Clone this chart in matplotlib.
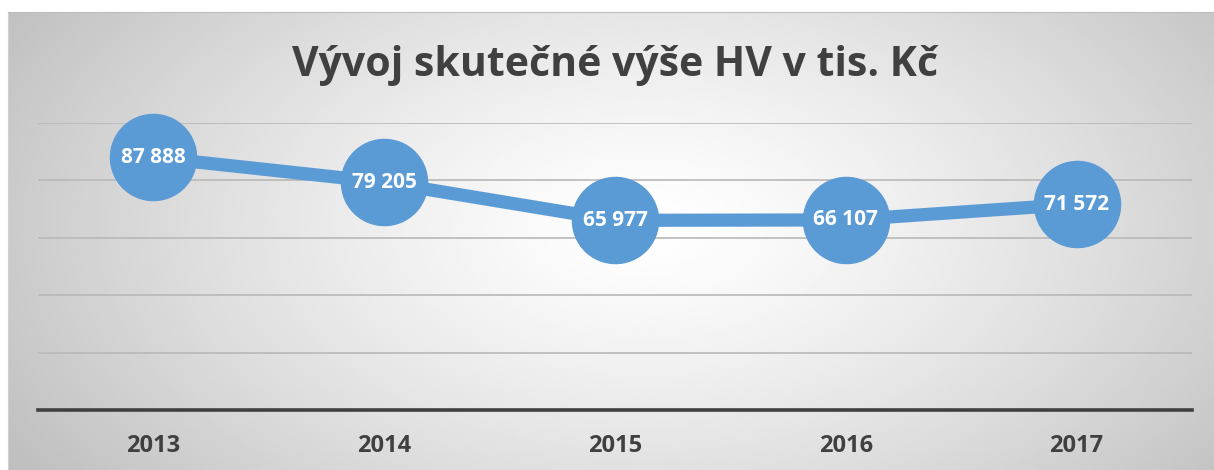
import numpy as np
from matplotlib import pyplot as plt

# data
years = ['2013', '2014', '2015', '2016', '2017']
hv_values = [87888, 79205, 65977, 66107, 71572]
value_labels = ['87 888', '79 205', '65 977', '66 107', '71 572']
title_text = 'Vývoj skutečné výše HV v tis. Kč'

W, H = 1214, 470
fig = plt.figure(figsize=(W / 100, H / 100), dpi=100)
fig.patch.set_facecolor('white')

# ============= gradient background of chart area ================
bg = fig.add_axes([8 / W, 0, 1 - 8 / W, (H - 12) / H])
gx = np.linspace(0, 1, 400)
gy = np.linspace(0, 1, 160)
GX, GY = np.meshgrid(gx, gy)
dist = np.sqrt(((GX - 0.53) / 0.62) ** 2 + ((GY - 0.47) / 0.95) ** 2)
dist = np.clip(dist, 0, 1)
shade = 1.0 - 0.25 * dist ** 1.3
bg.imshow(shade, cmap='gray', vmin=0, vmax=1, aspect='auto', extent=[0, 1, 0, 1], origin='upper')
bg.set_xlim(0, 1)
bg.set_ylim(0, 1)
bg.set_xticks([])
bg.set_yticks([])
for s in bg.spines.values():
    s.set_visible(False)
bg.spines['top'].set_visible(True)
bg.spines['top'].set_color('#bdbdbd')
bg.spines['left'].set_visible(True)
bg.spines['left'].set_color('#d0d0d0')

# ============= main plot ================
ax = fig.add_axes([38 / W, 60 / H, (1192 - 38) / W, (410 - 122.5) / H])
ax.patch.set_alpha(0)
x = np.arange(len(years))

ax.set_xlim(-0.5, len(years) - 0.5)
ax.set_ylim(0, 100000)
ax.set_yticks([20000, 40000, 60000, 80000, 100000])
ax.yaxis.grid(True, color='#b8b8b8', linewidth=1.2)
ax.set_axisbelow(True)
ax.tick_params(axis='y', left=False, labelleft=False)
ax.tick_params(axis='x', bottom=False, pad=14)
ax.set_xticks(x, labels=years)
for lab in ax.get_xticklabels():
    lab.set_fontfamily('Open Sans')
    lab.set_fontweight('bold')
    lab.set_fontsize(17)
    lab.set_color('#404040')

for side in ['top', 'right', 'left']:
    ax.spines[side].set_visible(False)
ax.spines['bottom'].set_color('#404040')
ax.spines['bottom'].set_linewidth(2.6)

ax.plot(x, hv_values, color='#5b9bd5', linewidth=9.5, marker='o', markersize=62,
        markerfacecolor='#5b9bd5', markeredgecolor='#5b9bd5', clip_on=False, zorder=3)

for xi, val, lab in zip(x, hv_values, value_labels):
    ax.text(xi, val, lab, ha='center', va='center', color='white', fontsize=15,
            fontweight='bold', fontfamily='Open Sans', zorder=4)

fig.text(615 / W, 1 - 66 / H, title_text, ha='center', va='center', fontsize=29.5,
         fontweight='bold', fontfamily='Open Sans', color='#404040')

fig.savefig('out.png', dpi=100)
